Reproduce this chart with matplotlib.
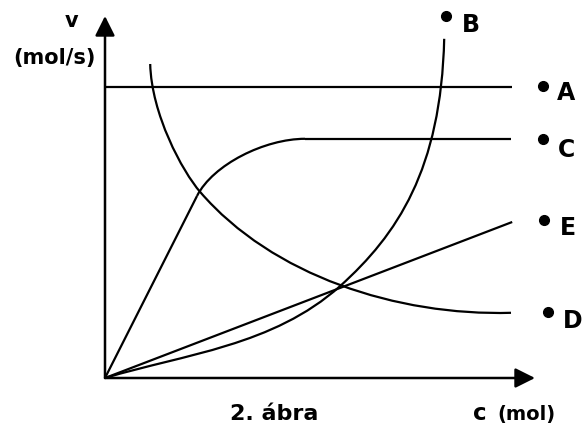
import numpy as np
import matplotlib
matplotlib.use("Agg")
import matplotlib.pyplot as plt
from matplotlib.path import Path
from matplotlib.patches import PathPatch

# Schematic curves (arbitrary units, origin at the axes corner).
# Curved parts are given as cubic Bezier control points (start, c1, c2, end, c1, c2, end ...)
a_pts = [(0.0, 7.28), (10.18, 7.28)]

b_pts = [(0.0, 0.0), (2.0, 0.6), (4.2, 0.8), (5.88, 2.3),
         (7.3, 3.58), (8.4, 5.2), (8.48, 8.48)]

c_line_start = [(0.0, 0.0), (2.3, 4.55)]
c_bend = [(2.3, 4.55), (2.7, 5.34), (4.0, 5.98), (5.0, 5.98)]
c_flat = [(5.0, 5.98), (10.15, 5.98)]

d_pts = [(1.13, 7.85), (1.16, 6.6), (1.93, 5.17), (2.38, 4.65),
         (4.18, 2.56), (7.3, 1.55), (10.15, 1.63)]

e_pts = [(0.0, 0.0), (10.18, 3.9)]

curve_names = ['A', 'B', 'C', 'D', 'E']

W, H = 584, 435
fig = plt.figure(figsize=(W / 100, H / 100), dpi=100)
ax = fig.add_axes([0, 0, 1, 1])
ax.set_xlim(-105 / 40, (W - 105) / 40)
ax.set_ylim(-(H - 379) / 40, 379 / 40)
ax.axis('off')

plt.rcParams['font.family'] = ['DejaVu Sans']

# axes with arrow heads
arrow = dict(arrowstyle='-|>', color='black', lw=1.8, mutation_scale=30,
             shrinkA=0, shrinkB=0)
ax.annotate('', xy=(10.75, 0), xytext=(0, 0), arrowprops=arrow)
ax.annotate('', xy=(0, 9.05), xytext=(0, 0), arrowprops=arrow)

LW = 1.6


def line(pts):
    xs, ys = zip(*pts)
    ax.plot(xs, ys, color='black', lw=LW, solid_capstyle='butt')


def bezier(pts):
    codes = [Path.MOVETO] + [Path.CURVE4] * (len(pts) - 1)
    ax.add_patch(PathPatch(Path(pts, codes), fill=False, edgecolor='black', lw=LW))


line(a_pts)
line(e_pts)
line(c_line_start)
bezier(c_bend)
line(c_flat)
bezier(b_pts)
bezier(d_pts)


def px(x, y):
    # pixel position -> figure fraction
    return x / W, 1 - y / H


# labels next to the curves: bullet + letter
bullets = {'A': (543, 87), 'B': (446, 17), 'C': (543, 140), 'D': (548, 313), 'E': (544, 221)}
letters = {'A': (557, 100), 'B': (462, 32), 'C': (558, 157), 'D': (563, 328), 'E': (560, 235)}
for name in curve_names:
    bx, by = px(*bullets[name])
    fig.add_artist(plt.Line2D([bx], [by], marker='o', markersize=7, color='black',
                              transform=fig.transFigure))
    tx, ty = px(*letters[name])
    fig.text(tx, ty, name, fontsize=17, fontweight='bold', ha='left', va='baseline')

# axis titles
fig.text(*px(65, 27), 'v', fontsize=15, fontweight='bold', ha='left', va='baseline')
fig.text(*px(13, 64), '(mol/s)', fontsize=15, fontweight='bold', ha='left', va='baseline')
fig.text(*px(274, 420), '2. ábra', fontsize=16, fontweight='bold', ha='center', va='baseline')
fig.text(*px(473, 420), 'c', fontsize=16.5, fontweight='bold', ha='left', va='baseline')
fig.text(*px(497, 420), '(mol)', fontsize=14, fontweight='bold', ha='left', va='baseline')

plt.savefig('out.png', dpi=100)
